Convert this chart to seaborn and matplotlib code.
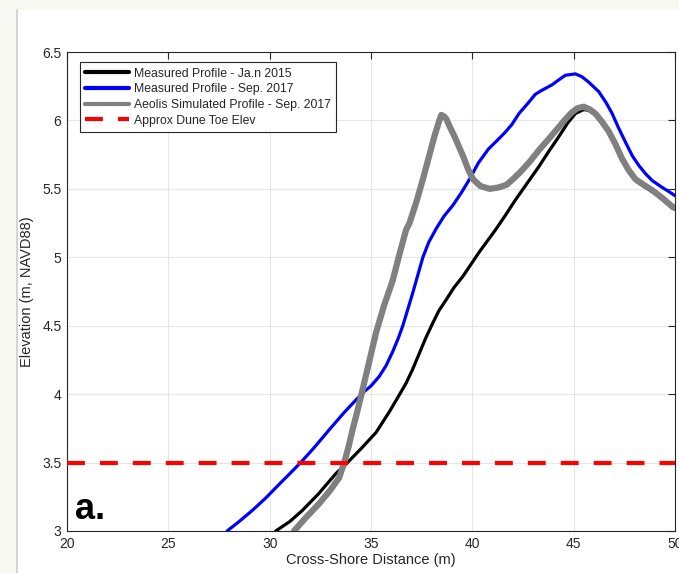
import matplotlib
matplotlib.use("Agg")
import matplotlib.pyplot as plt
from matplotlib.patches import Rectangle
from matplotlib.lines import Line2D
import pandas as pd
import seaborn as sns

# Cross-shore profiles: distance (m) and elevation (m, NAVD88)
jan2015_x = [30.3, 31.0, 31.61, 32.4, 33.27, 33.84, 34.5, 35.25, 35.9, 36.3, 36.73, 37.05,
             37.39, 37.7, 38.05, 38.35, 38.71, 39.1, 39.53, 40.35, 41.14, 41.6, 42.13, 42.7,
             43.27, 43.8, 44.26, 44.7, 45.08, 45.5, 45.8, 46.07, 46.4, 46.73, 47.05, 47.39,
             47.7, 48.05, 48.45, 48.88, 49.4, 49.87, 50.0]
jan2015_z = [3.00, 3.07, 3.15, 3.27, 3.42, 3.50, 3.60, 3.72, 3.87, 3.97, 4.08, 4.18,
             4.30, 4.41, 4.52, 4.61, 4.69, 4.78, 4.86, 5.04, 5.20, 5.30, 5.42, 5.54,
             5.66, 5.78, 5.88, 5.98, 6.05, 6.08, 6.07, 6.04, 5.98, 5.91, 5.82, 5.71,
             5.63, 5.56, 5.52, 5.48, 5.42, 5.36, 5.35]

sep2017_x = [27.9, 28.5, 29.14, 29.8, 30.46, 31.0, 31.53, 32.2, 32.94, 33.7, 34.59, 35.0,
             35.41, 35.75, 36.07, 36.35, 36.57, 37.06, 37.56, 37.85, 38.22, 38.6, 39.04,
             39.45, 39.86, 40.3, 40.79, 41.2, 41.6, 41.95, 42.3, 42.77, 43.1, 43.43, 43.93,
             44.3, 44.59, 45.08, 45.4, 45.74, 46.24, 46.6, 46.9, 47.2, 47.56, 47.9, 48.22,
             48.55, 48.88, 49.37, 49.7, 50.0]
sep2017_z = [3.00, 3.07, 3.15, 3.24, 3.34, 3.42, 3.50, 3.61, 3.74, 3.87, 4.01, 4.06,
             4.13, 4.21, 4.31, 4.41, 4.50, 4.74, 5.00, 5.11, 5.21, 5.30, 5.38,
             5.47, 5.57, 5.69, 5.79, 5.85, 5.91, 5.97, 6.05, 6.13, 6.19, 6.22, 6.26,
             6.30, 6.33, 6.34, 6.32, 6.28, 6.21, 6.13, 6.05, 5.95, 5.84, 5.74, 5.67,
             5.61, 5.56, 5.51, 5.48, 5.45]

aeolis_x = [31.2, 31.8, 32.44, 33.0, 33.43, 33.68, 33.9, 34.09, 34.3, 34.5, 34.9,
            35.25, 35.65, 36.07, 36.4, 36.73, 36.9, 37.25, 37.56, 37.85, 38.14, 38.35,
            38.47, 38.6, 38.72, 38.9, 39.13, 39.54, 39.8, 40.04, 40.4, 40.86, 41.29, 41.69,
            42.0, 42.35, 42.84, 43.27, 43.8, 44.26, 44.6, 44.92, 45.2, 45.5, 45.8, 46.07,
            46.4, 46.73, 47.05, 47.39, 47.7, 48.05, 48.45, 48.88, 49.4, 49.87, 50.0]
aeolis_z = [3.00, 3.10, 3.20, 3.30, 3.39, 3.50, 3.62, 3.74, 3.86, 3.98, 4.23,
            4.45, 4.65, 4.83, 5.02, 5.20, 5.25, 5.41, 5.57, 5.73, 5.89, 5.99,
            6.04, 6.03, 6.01, 5.95, 5.88, 5.74, 5.64, 5.57, 5.52, 5.50, 5.51, 5.53,
            5.57, 5.62, 5.70, 5.78, 5.87, 5.95, 6.01, 6.06, 6.09, 6.10, 6.08, 6.05,
            5.99, 5.92, 5.83, 5.72, 5.64, 5.57, 5.53, 5.49, 5.43, 5.37, 5.36]

dune_toe_elev = 3.5
x_limits = [20, 50]
y_limits = [3, 6.5]
x_ticks = [20, 25, 30, 35, 40, 45, 50]
y_ticks = [3, 3.5, 4, 4.5, 5, 5.5, 6, 6.5]
x_tick_labels = ["20", "25", "30", "35", "40", "45", "50"]
y_tick_labels = ["3", "3.5", "4", "4.5", "5", "5.5", "6", "6.5"]

labels = ["Measured Profile - Ja.n 2015",
          "Measured Profile - Sep. 2017",
          "Aeolis Simulated Profile - Sep. 2017",
          "Approx Dune Toe Elev"]

sns.set_style("white")
plt.rcParams["font.family"] = ["Liberation Sans", "DejaVu Sans"]

W, H = 679, 573
fig = plt.figure(figsize=(W / 100, H / 100), dpi=100)
fig.patch.set_facecolor("#f9f9f4")
# white page panel with a faint left rule
fig.add_artist(Rectangle((17 / W, 0), 1 - 17 / W, 1 - 10 / H, transform=fig.transFigure,
                         facecolor="white", edgecolor="none", zorder=0))
fig.add_artist(Line2D([16.5 / W, 16.5 / W], [0, 1 - 10 / H], transform=fig.transFigure,
                      color="#d4d4d0", lw=1.5, zorder=1))

ax = fig.add_axes([67 / W, 1 - 531 / H, (675 - 67) / W, (531 - 52) / H])
ax.set_facecolor("white")

df_jan = pd.DataFrame({"x": jan2015_x, "z": jan2015_z})
df_sep = pd.DataFrame({"x": sep2017_x, "z": sep2017_z})
df_aeo = pd.DataFrame({"x": aeolis_x, "z": aeolis_z})

line_kw = dict(sort=False, solid_joinstyle="round", solid_capstyle="round")
sns.lineplot(data=df_jan, x="x", y="z", ax=ax, color="black", lw=2.3,
             label=labels[0], zorder=3, **line_kw)
sns.lineplot(data=df_sep, x="x", y="z", ax=ax, color="#0000ff", lw=2.3,
             label=labels[1], zorder=3, **line_kw)
sns.lineplot(data=df_aeo, x="x", y="z", ax=ax, color="#808080", lw=4.5,
             label=labels[2], zorder=4, **line_kw)
ax.axhline(dune_toe_elev, color="#ff0000", lw=3, dashes=(4.3, 3.6),
           label=labels[3], zorder=5)

ax.set_xlim(x_limits)
ax.set_ylim(y_limits)
ax.set_xticks(x_ticks)
ax.set_xticklabels(x_tick_labels)
ax.set_yticks(y_ticks)
ax.set_yticklabels(y_tick_labels)
ax.grid(True, color="#e6e6e6", lw=0.8, zorder=0)
ax.set_axisbelow(True)

for s in ax.spines.values():
    s.set_visible(True)
    s.set_color("#262626")
    s.set_linewidth(0.8)
ax.tick_params(direction="in", length=5, width=0.8, colors="#262626",
               labelsize=10, top=True, right=True, pad=4)

ax.set_xlabel("Cross-Shore Distance (m)", fontsize=10.5, color="#262626", labelpad=2)
ax.set_ylabel("Elevation (m, NAVD88)", fontsize=10.5, color="#262626", labelpad=6)

ax.text(20.4, 3.088, "a.", fontsize=26, fontweight="bold", color="black",
        ha="left", va="baseline", zorder=6)

leg = ax.legend(loc="upper left", bbox_to_anchor=(0.021, 0.979), borderaxespad=0,
                fontsize=8.8, frameon=True, fancybox=False, framealpha=1,
                edgecolor="#262626", handlelength=3.6, handletextpad=0.35,
                labelspacing=0.3, borderpad=0.45)
leg.get_frame().set_linewidth(0.8)
for h in leg.get_lines():
    h.set_linewidth(3)
leg.get_lines()[3].set_dashes((4.3, 3.6))

fig.savefig("out.png", dpi=100, facecolor=fig.get_facecolor())
